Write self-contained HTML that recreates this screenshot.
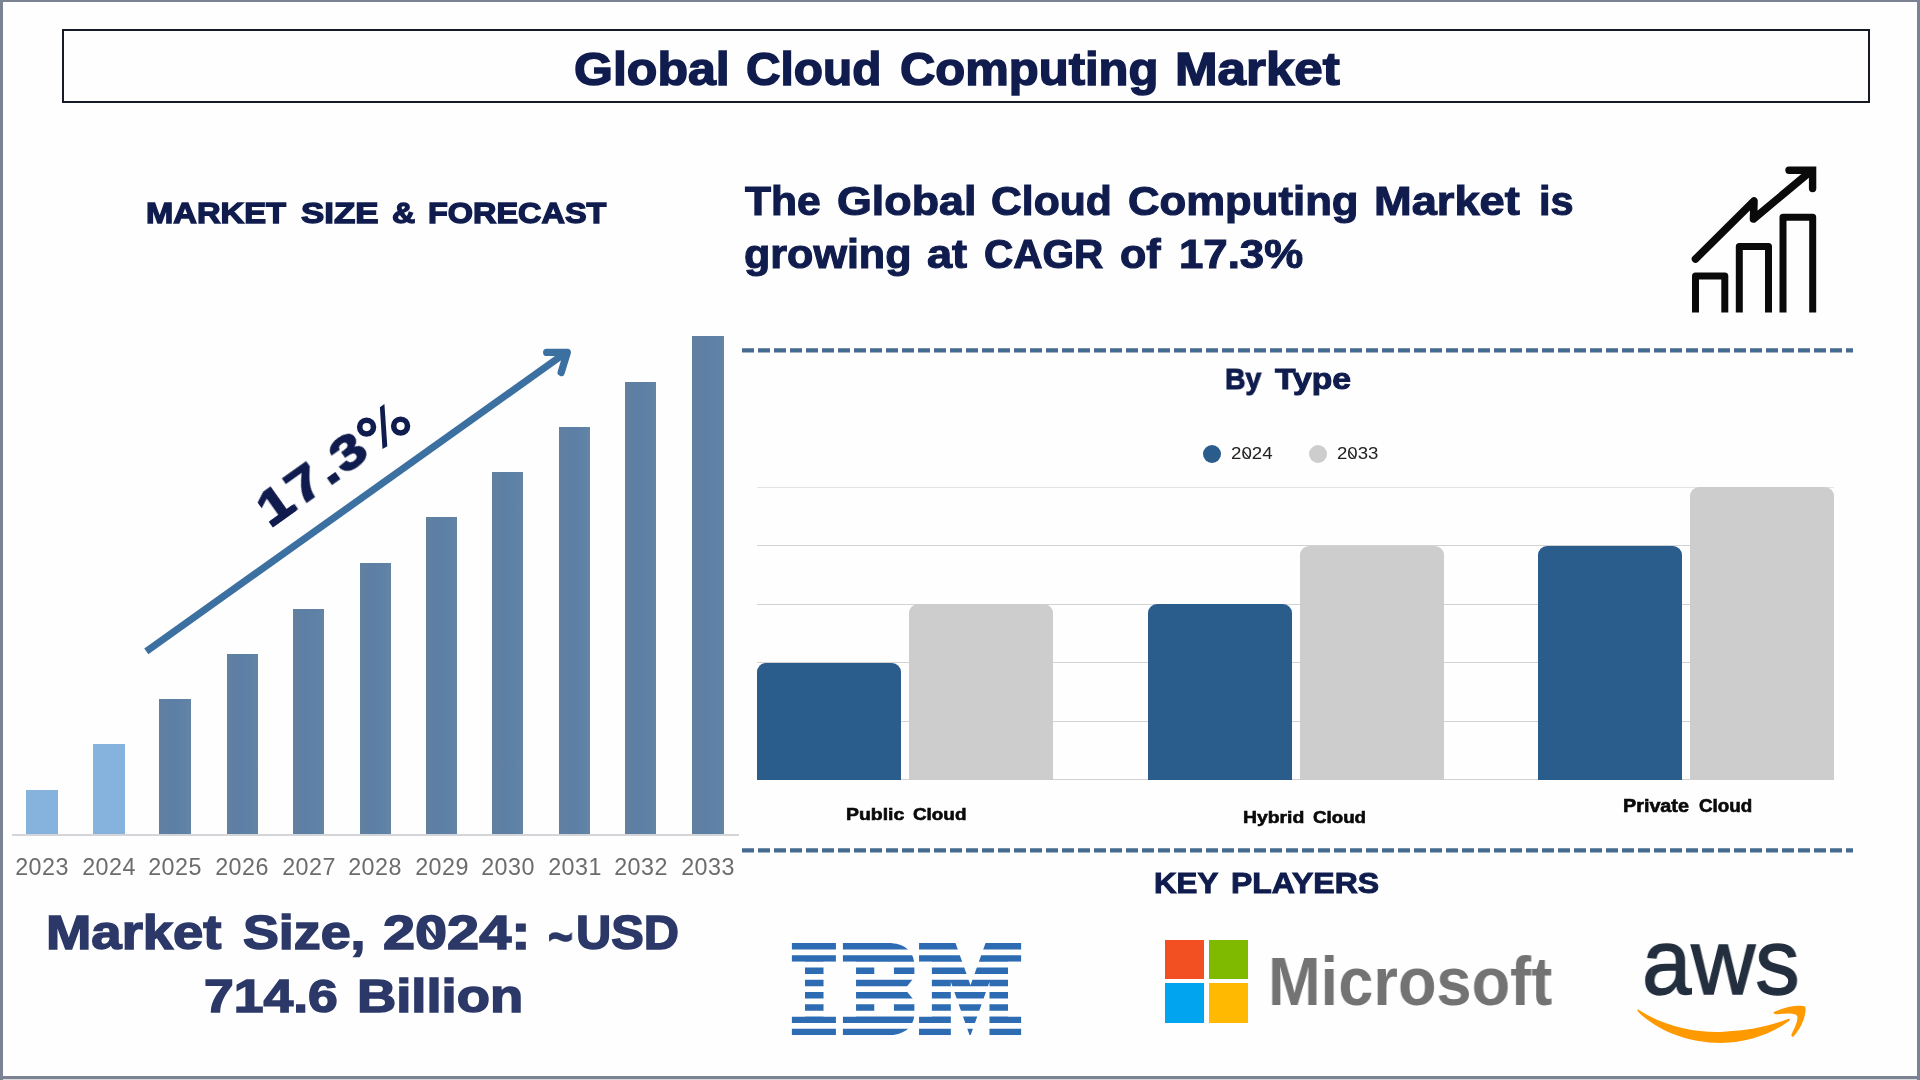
<!DOCTYPE html>
<html lang="en"><head><meta charset="utf-8"><title>Global Cloud Computing Market</title>
<style>
html,body{margin:0;padding:0;background:#fefefe;}
body{width:1920px;height:1080px;overflow:hidden;position:relative;font-family:"Liberation Sans",sans-serif;}
.fr{position:absolute;background:#7b8292;}
#fr-l{left:0;top:0;width:2.6px;height:1080px;}
#fr-r{left:1917.3px;top:0;width:2.7px;height:1080px;}
#fr-t{left:0;top:0;width:1920px;height:1.6px;}
#fr-b{left:0;top:1076px;width:1920px;height:3px;}
#fr-b2{left:0;top:1079px;width:1920px;height:1px;background:#d9dbe0;}
#titlebox{position:absolute;left:61.5px;top:28.5px;width:1808px;height:74.5px;box-sizing:border-box;border:2px solid #161a26;}
.tx{position:absolute;white-space:nowrap;line-height:1;transform-origin:0 0;will-change:transform;font-family:"Liberation Sans",sans-serif;}
.lb{position:absolute;background:linear-gradient(90deg,#62809f 0,#5d7fa5 40%,#5e81a6 75%,#6485a4 100%);}
.lb.lt{background:#86b2de;}
.axis{position:absolute;height:2px;background:#d3d5d8;}
.yr{position:absolute;top:855.6px;width:80px;text-align:center;font-size:23.3px;letter-spacing:0.45px;line-height:1;color:#6c6c6c;white-space:nowrap;will-change:transform;}
.grid{position:absolute;left:757px;width:1077px;height:1px;background:#d2d2d2;}
.rb{position:absolute;border-radius:9px 9px 0 0;}
.rb.b{background:#2a5c8c;}
.rb.g{background:#cdcdcd;}
.dot{position:absolute;width:18px;height:18px;border-radius:50%;}
svg{position:absolute;overflow:visible;}
</style></head><body>

<div id="titlebox"></div>
<!-- left chart -->
<div class="lb lt" style="left:26px;top:790px;width:32px;height:44px"></div>
<div class="lb lt" style="left:93px;top:744px;width:32px;height:90px"></div>
<div class="lb" style="left:159px;top:699px;width:32px;height:135px"></div>
<div class="lb" style="left:227px;top:654px;width:30.5px;height:180px"></div>
<div class="lb" style="left:293px;top:609px;width:31px;height:225px"></div>
<div class="lb" style="left:360px;top:563px;width:30.600000000000023px;height:271px"></div>
<div class="lb" style="left:426px;top:517px;width:31px;height:317px"></div>
<div class="lb" style="left:492px;top:472px;width:31px;height:362px"></div>
<div class="lb" style="left:559px;top:427px;width:31px;height:407px"></div>
<div class="lb" style="left:625px;top:382px;width:31px;height:452px"></div>
<div class="lb" style="left:692px;top:336px;width:32px;height:498px"></div>
<div class="axis" style="left:12px;top:834px;width:727px"></div>
<div class="yr" style="left:2.0px">2023</div>
<div class="yr" style="left:69.0px">2024</div>
<div class="yr" style="left:135.0px">2025</div>
<div class="yr" style="left:202.2px">2026</div>
<div class="yr" style="left:268.5px">2027</div>
<div class="yr" style="left:335.3px">2028</div>
<div class="yr" style="left:401.5px">2029</div>
<div class="yr" style="left:467.5px">2030</div>
<div class="yr" style="left:534.5px">2031</div>
<div class="yr" style="left:600.5px">2032</div>
<div class="yr" style="left:668.0px">2033</div>
<!-- growth arrow + CAGR label -->
<svg width="1920" height="1080" viewBox="0 0 1920 1080" style="left:0;top:0;pointer-events:none">
<g fill="none" stroke="#3c70a1" stroke-width="7.1">
<path d="M146.3,651.3 L566.5,352.2" stroke-linecap="butt"/>
<path d="M546.7,352.4 L567.3,352.4 L561.2,372.4" stroke-linecap="round" stroke-linejoin="round" stroke-width="7.3"/>
</g>
<g fill="none" stroke="#466b91" stroke-width="4.3" stroke-dasharray="12 4"><path d="M742,350.3 H1853"/><path d="M742,850.3 H1853"/></g>
<g id="pct" fill="none" stroke="#0f1c4d" stroke-width="5.6">
<circle cx="366.6" cy="427.1" r="6.9"/>
<circle cx="400.6" cy="426.1" r="6.9"/>
<path d="M379.9,407.3 L384.4,404.1 L387.3,446.2 L382.5,449.1 Z" fill="#0f1c4d" stroke="none"/>
</g>
</svg>
<div id="cagr-wrap" style="position:absolute;left:271.8px;top:528.35px;width:0;height:0;transform-origin:0 0;transform:rotate(-35.4deg)">
<div id="cagr" class="tx" style="left:0;top:-41.2px;font-size:47.65px;font-weight:bold;color:#0f1c4d;-webkit-text-stroke:1.7px #0f1c4d;letter-spacing:2px;transform:scaleX(1.24)">17.3</div>
<div id="cagr-foot" style="position:absolute;left:0.5px;top:-7px;width:29px;height:7px;background:#0f1c4d"></div>
</div>

<!-- right chart -->
<div class="dot" style="left:1203px;top:445px;background:#2a5c8c"></div>
<div class="dot" style="left:1309.3px;top:445px;background:#cdcdcd"></div>
<div class="grid" style="top:486.50px;background:#e3e3e3"></div>
<div class="grid" style="top:545.00px"></div>
<div class="grid" style="top:603.50px"></div>
<div class="grid" style="top:662.00px"></div>
<div class="grid" style="top:720.50px"></div>
<div class="grid" style="top:779.00px"></div>
<div class="rb b" style="left:757px;top:663px;width:144px;height:116.5px"></div>
<div class="rb g" style="left:909px;top:604px;width:144px;height:175.5px"></div>
<div class="rb b" style="left:1148px;top:604px;width:144px;height:175.5px"></div>
<div class="rb g" style="left:1300px;top:546px;width:144px;height:233.5px"></div>
<div class="rb b" style="left:1538px;top:546px;width:144px;height:233.5px"></div>
<div class="rb g" style="left:1690px;top:487px;width:144px;height:292.5px"></div>
<!-- text -->
<div id="t-title-0" class="tx" style="left:574.33px;top:45.94px;font-size:46.73px;font-weight:bold;color:#0f1c4d;-webkit-text-stroke:1.5px #0f1c4d;transform:scaleX(1.0715)">Global</div>
<div id="t-title-1" class="tx" style="left:746.24px;top:45.94px;font-size:46.73px;font-weight:bold;color:#0f1c4d;-webkit-text-stroke:1.5px #0f1c4d;transform:scaleX(1.0231)">Cloud</div>
<div id="t-title-2" class="tx" style="left:900.34px;top:45.94px;font-size:46.73px;font-weight:bold;color:#0f1c4d;-webkit-text-stroke:1.5px #0f1c4d;transform:scaleX(1.0484)">Computing</div>
<div id="t-title-3" class="tx" style="left:1175.24px;top:45.94px;font-size:46.73px;font-weight:bold;color:#0f1c4d;-webkit-text-stroke:1.5px #0f1c4d;transform:scaleX(1.0939)">Market</div>
<div id="t-msf-0" class="tx" style="left:146.30px;top:198.45px;font-size:30.3px;font-weight:bold;color:#0f1c4d;-webkit-text-stroke:1.4px #0f1c4d;transform:scaleX(1.0804)">MARKET</div>
<div id="t-msf-1" class="tx" style="left:301.41px;top:198.45px;font-size:30.3px;font-weight:bold;color:#0f1c4d;-webkit-text-stroke:1.4px #0f1c4d;transform:scaleX(1.1513)">SIZE</div>
<div id="t-msf-2" class="tx" style="left:392.18px;top:198.45px;font-size:30.3px;font-weight:bold;color:#0f1c4d;-webkit-text-stroke:1.4px #0f1c4d;transform:scaleX(1.0607)">&amp;</div>
<div id="t-msf-3" class="tx" style="left:427.61px;top:198.45px;font-size:30.3px;font-weight:bold;color:#0f1c4d;-webkit-text-stroke:1.4px #0f1c4d;transform:scaleX(1.0707)">FORECAST</div>
<div id="t-h1-0" class="tx" style="left:744.78px;top:181.03px;font-size:40.54px;font-weight:bold;color:#0f1c4d;-webkit-text-stroke:1.1px #0f1c4d;transform:scaleX(1.0507)">The</div>
<div id="t-h1-1" class="tx" style="left:837.20px;top:181.03px;font-size:40.54px;font-weight:bold;color:#0f1c4d;-webkit-text-stroke:1.1px #0f1c4d;transform:scaleX(1.1053)">Global</div>
<div id="t-h1-2" class="tx" style="left:990.73px;top:181.03px;font-size:40.54px;font-weight:bold;color:#0f1c4d;-webkit-text-stroke:1.1px #0f1c4d;transform:scaleX(1.0535)">Cloud</div>
<div id="t-h1-3" class="tx" style="left:1128.22px;top:181.03px;font-size:40.54px;font-weight:bold;color:#0f1c4d;-webkit-text-stroke:1.1px #0f1c4d;transform:scaleX(1.0778)">Computing</div>
<div id="t-h1-4" class="tx" style="left:1374.08px;top:181.03px;font-size:40.54px;font-weight:bold;color:#0f1c4d;-webkit-text-stroke:1.1px #0f1c4d;transform:scaleX(1.1163)">Market</div>
<div id="t-h1-5" class="tx" style="left:1539.22px;top:181.03px;font-size:40.54px;font-weight:bold;color:#0f1c4d;-webkit-text-stroke:1.1px #0f1c4d;transform:scaleX(1.0236)">is</div>
<div id="t-h2-0" class="tx" style="left:743.72px;top:233.63px;font-size:40.54px;font-weight:bold;color:#0f1c4d;-webkit-text-stroke:1.1px #0f1c4d;transform:scaleX(1.0626)">growing</div>
<div id="t-h2-1" class="tx" style="left:927.00px;top:233.63px;font-size:40.54px;font-weight:bold;color:#0f1c4d;-webkit-text-stroke:1.1px #0f1c4d;transform:scaleX(1.1139)">at</div>
<div id="t-h2-2" class="tx" style="left:984.35px;top:233.63px;font-size:40.54px;font-weight:bold;color:#0f1c4d;-webkit-text-stroke:1.1px #0f1c4d;transform:scaleX(1.0003)">CAGR</div>
<div id="t-h2-3" class="tx" style="left:1120.22px;top:233.63px;font-size:40.54px;font-weight:bold;color:#0f1c4d;-webkit-text-stroke:1.1px #0f1c4d;transform:scaleX(1.0628)">of</div>
<div id="t-h2-4" class="tx" style="left:1179.43px;top:233.63px;font-size:40.54px;font-weight:bold;color:#0f1c4d;-webkit-text-stroke:1.1px #0f1c4d;transform:scaleX(1.0798)">17.3%</div>
<div id="t-bytype-0" class="tx" style="left:1224.62px;top:364.35px;font-size:29.59px;font-weight:bold;color:#0f1c4d;-webkit-text-stroke:1.0px #0f1c4d;transform:scaleX(0.9619)">By</div>
<div id="t-bytype-1" class="tx" style="left:1275.07px;top:364.35px;font-size:29.59px;font-weight:bold;color:#0f1c4d;-webkit-text-stroke:1.0px #0f1c4d;transform:scaleX(1.1367)">Type</div>
<div id="t-key-0" class="tx" style="left:1154.44px;top:868.10px;font-size:30.01px;font-weight:bold;color:#0f1c4d;-webkit-text-stroke:1.0px #0f1c4d;transform:scaleX(1.0416)">KEY</div>
<div id="t-key-1" class="tx" style="left:1230.50px;top:868.10px;font-size:30.01px;font-weight:bold;color:#0f1c4d;-webkit-text-stroke:1.0px #0f1c4d;transform:scaleX(1.0655)">PLAYERS</div>
<div id="t-ms1-0" class="tx" style="left:46.01px;top:908.77px;font-size:47.23px;font-weight:bold;color:#2b3868;-webkit-text-stroke:1.5px #2b3868;transform:scaleX(1.1530)">Market</div>
<div id="t-ms1-1" class="tx" style="left:243.12px;top:908.77px;font-size:47.23px;font-weight:bold;color:#2b3868;-webkit-text-stroke:1.5px #2b3868;transform:scaleX(1.1383)">Size,</div>
<div id="t-ms1-2" class="tx" style="left:383.29px;top:908.77px;font-size:47.23px;font-weight:bold;color:#2b3868;-webkit-text-stroke:1.5px #2b3868;transform:scaleX(1.2208)">2024:</div>
<div id="t-ms1-3" class="tx" style="left:548.07px;top:913.17px;font-size:47.23px;font-weight:bold;color:#2b3868;-webkit-text-stroke:1.5px #2b3868;transform:scaleX(0.9019)">~</div>
<div id="t-ms1-4" class="tx" style="left:576.31px;top:908.77px;font-size:47.23px;font-weight:bold;color:#2b3868;-webkit-text-stroke:1.5px #2b3868;transform:scaleX(1.0337)">USD</div>
<div id="t-ms2-0" class="tx" style="left:203.88px;top:972.20px;font-size:47.08px;font-weight:bold;color:#2b3868;-webkit-text-stroke:1.5px #2b3868;transform:scaleX(1.1358)">714.6</div>
<div id="t-ms2-1" class="tx" style="left:357.10px;top:972.20px;font-size:47.08px;font-weight:bold;color:#2b3868;-webkit-text-stroke:1.5px #2b3868;transform:scaleX(1.1549)">Billion</div>
<div id="t-c1-0" class="tx" style="left:846.10px;top:805.95px;font-size:17.07px;font-weight:bold;color:#0a0a0a;-webkit-text-stroke:0.6px #0a0a0a;transform:scaleX(1.1390)">Public</div>
<div id="t-c1-1" class="tx" style="left:912.93px;top:805.95px;font-size:17.07px;font-weight:bold;color:#0a0a0a;-webkit-text-stroke:0.6px #0a0a0a;transform:scaleX(1.1050)">Cloud</div>
<div id="t-c2-0" class="tx" style="left:1243.11px;top:808.95px;font-size:17.07px;font-weight:bold;color:#0a0a0a;-webkit-text-stroke:0.6px #0a0a0a;transform:scaleX(1.1350)">Hybrid</div>
<div id="t-c2-1" class="tx" style="left:1313.23px;top:808.95px;font-size:17.07px;font-weight:bold;color:#0a0a0a;-webkit-text-stroke:0.6px #0a0a0a;transform:scaleX(1.0967)">Cloud</div>
<div id="t-c3-0" class="tx" style="left:1623.21px;top:797.89px;font-size:17.5px;font-weight:bold;color:#0a0a0a;-webkit-text-stroke:0.6px #0a0a0a;transform:scaleX(1.1299)">Private</div>
<div id="t-c3-1" class="tx" style="left:1698.52px;top:797.89px;font-size:17.5px;font-weight:bold;color:#0a0a0a;-webkit-text-stroke:0.6px #0a0a0a;transform:scaleX(1.0732)">Cloud</div>
<div id="t-l1" class="tx" style="left:1230.60px;top:446.21px;font-size:16.64px;font-weight:normal;color:#222;transform:scaleX(1.1242)">2024</div>
<div id="t-l2" class="tx" style="left:1336.90px;top:446.21px;font-size:16.64px;font-weight:normal;color:#222;transform:scaleX(1.1187)">2033</div>
<div id="t-msft" class="tx" style="left:1268.32px;top:947.76px;font-size:68.56px;font-weight:bold;color:#737373;transform:scaleX(0.9212)">Microsoft</div>
<div id="t-aws" class="tx" style="left:1642.39px;top:915.68px;font-size:92.29px;font-weight:normal;color:#232f3e;-webkit-text-stroke:1.4px #232f3e;transform:scaleX(0.9601)">aws</div>
<!-- slashed zeros -->
<svg width="1920" height="1080" viewBox="0 0 1920 1080" style="left:0;top:0;pointer-events:none">
<path d="M424.5,924 L440,944.5" stroke="#2b3868" stroke-width="3.4" fill="none"/>
<path d="M1243.6,451.2 L1249.6,458.6 M1349.4,451.2 L1355.4,458.6" stroke="#222" stroke-width="1.1" fill="none"/>
</svg>

<!-- growth icon -->
<svg id="icon" width="1920" height="1080" viewBox="0 0 1920 1080" style="left:0;top:0;pointer-events:none">
<g fill="none" stroke="#0a0a0a" stroke-width="7" stroke-linejoin="round">
<path d="M1695.5,312.5 V276 H1724.8 V312.5"/>
<path d="M1739.3,312.5 V246.5 H1768.5 V312.5"/>
<path d="M1783,312.5 V217.2 H1812.7 V312.5"/>
<path d="M1695.5,259 L1754,201 L1753.5,219 L1811,171" stroke-linecap="round" stroke-width="7.6"/>
<path d="M1789,170.2 H1812.6 V188.5" stroke-linecap="round" stroke-linejoin="miter" stroke-width="7.4"/>
</g>
</svg>

<!-- IBM -->
<svg id="ibm" width="280" height="140" viewBox="0 0 1920 960" style="left:770px;top:920px">
<defs><clipPath id="ibmstripes">
<rect x="0" y="158" width="1920" height="44"/><rect x="0" y="242" width="1920" height="44"/>
<rect x="0" y="326" width="1920" height="44"/><rect x="0" y="410" width="1920" height="44"/>
<rect x="0" y="494" width="1920" height="44"/><rect x="0" y="578" width="1920" height="44"/>
<rect x="0" y="662" width="1920" height="44"/><rect x="0" y="746" width="1920" height="44"/>
</clipPath></defs>
<g clip-path="url(#ibmstripes)" fill="#2d6cb3" fill-rule="evenodd">
<path d="M150,158H452V287H367V662H452V790H150V662H240V287H150Z"/>
<path d="M500,158H810C920,158 990,215 990,310V392L925,473L990,554V640C990,735 920,790 810,790H500V662H590V287H500Z M715,300H850V395H715Z M715,555H850V640H715Z"/>
<path d="M1022,158H1272L1375,447L1478,158H1722V287H1632V662H1722V790H1505V425L1372,800L1240,425V790H1022V662H1110V287H1022Z"/>
</g>
</svg>
<!-- Microsoft -->
<div style="position:absolute;left:1165.3px;top:940.1px;width:39px;height:39px;background:#f25022"></div>
<div style="position:absolute;left:1208.6px;top:940.1px;width:39.2px;height:39px;background:#7fba00"></div>
<div style="position:absolute;left:1165.3px;top:983.4px;width:39px;height:39.4px;background:#00a4ef"></div>
<div style="position:absolute;left:1208.6px;top:983.4px;width:39.2px;height:39.4px;background:#ffb900"></div>
<!-- AWS -->
<svg id="awssmile" width="220" height="140" viewBox="0 0 1697 1080" style="left:1620px;top:920px">
<g fill="#ff9900">
<path d="M140,690C350,830 600,872 800,862C1000,852 1150,820 1300,762C1312,760 1314,770 1306,778C1180,875 980,948 780,948C520,948 280,850 138,705C132,694 134,688 140,690Z"/>
<path d="M1190,708C1260,675 1375,648 1428,668C1445,720 1395,845 1338,898C1322,905 1318,890 1326,876C1350,830 1380,760 1365,738C1345,715 1262,722 1205,728C1186,728 1180,716 1190,708Z"/>
</g>
</svg>

<div class="fr" id="fr-b2"></div><div class="fr" id="fr-b"></div><div class="fr" id="fr-t"></div><div class="fr" id="fr-l"></div><div class="fr" id="fr-r"></div>
</body></html>
